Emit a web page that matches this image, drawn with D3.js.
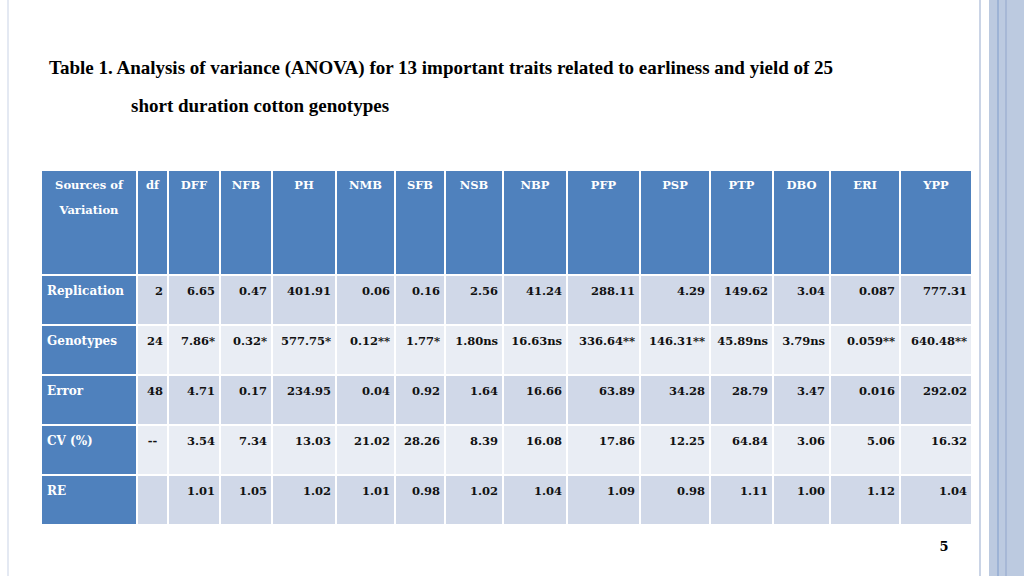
<!DOCTYPE html>
<html><head><meta charset="utf-8">
<script src="https://cdn.jsdelivr.net/npm/d3@7"></script>
<style>body{margin:0;background:#fff}svg{display:block}</style>
</head><body>
<svg id="chart" width="1024" height="576"></svg>
<script>
// table contents
var headers = ["Sources of\nVariation", "df", "DFF", "NFB", "PH", "NMB", "SFB", "NSB", "NBP", "PFP", "PSP", "PTP", "DBO", "ERI", "YPP"];
var sources = ["Replication", "Genotypes", "Error", "CV (%)", "RE"];
var dfs = ["2", "24", "48", "--", ""];
var replication = ["6.65", "0.47", "401.91", "0.06", "0.16", "2.56", "41.24", "288.11", "4.29", "149.62", "3.04", "0.087", "777.31"];
var genotypes = ["7.86*", "0.32*", "577.75*", "0.12**", "1.77*", "1.80ns", "16.63ns", "336.64**", "146.31**", "45.89ns", "3.79ns", "0.059**", "640.48**"];
var error = ["4.71", "0.17", "234.95", "0.04", "0.92", "1.64", "16.66", "63.89", "34.28", "28.79", "3.47", "0.016", "292.02"];
var cv = ["3.54", "7.34", "13.03", "21.02", "28.26", "8.39", "16.08", "17.86", "12.25", "64.84", "3.06", "5.06", "16.32"];
var re = ["1.01", "1.05", "1.02", "1.01", "0.98", "1.02", "1.04", "1.09", "0.98", "1.11", "1.00", "1.12", "1.04"];

var svg = d3.select("#chart");
var serif = "'DejaVu Serif', 'Liberation Serif', serif";

// slide decoration on the right
svg.append("line").attr("x1", 980).attr("x2", 980).attr("y1", 0).attr("y2", 576).attr("stroke", "#b8c6de").attr("stroke-width", 1.5);
svg.append("rect").attr("x", 989).attr("y", 0).attr("width", 35).attr("height", 576).attr("fill", "#bccae0");
svg.append("line").attr("x1", 998).attr("x2", 998).attr("y1", 0).attr("y2", 576).attr("stroke", "#7f9ccb").attr("stroke-width", 1);
svg.append("line").attr("x1", 1006).attr("x2", 1006).attr("y1", 0).attr("y2", 576).attr("stroke", "#a7b8d6").attr("stroke-width", 2);
svg.append("line").attr("x1", 8).attr("x2", 8).attr("y1", 0).attr("y2", 576).attr("stroke", "#c9d3e6").attr("stroke-width", 1);

// title
svg.append("text").attr("x", 49).attr("y", 74).attr("font-family", "'Liberation Serif', serif").attr("font-weight", "bold").attr("font-size", 19)
  .text("Table 1.  Analysis of variance (ANOVA) for 13 important traits related to earliness and yield of 25");
svg.append("text").attr("x", 131).attr("y", 112).attr("font-family", "'Liberation Serif', serif").attr("font-weight", "bold").attr("font-size", 19)
  .text("short duration cotton genotypes");
svg.append("text").attr("x", 944).attr("y", 551).attr("text-anchor", "middle").attr("font-family", serif).attr("font-weight", "bold").attr("font-size", 13).text("5");

// column edges
var edges = [41, 137, 168, 220, 272, 336, 395, 445, 503, 567, 640, 710, 773, 830, 900, 972];
var x = d3.scaleOrdinal().domain(headers).range(edges.slice(0, -1));
function w(i) { return edges[i + 1] - edges[i]; }

var headTop = 170, headBottom = 275;
var y = d3.scaleBand().domain(sources).range([headBottom, 525]).paddingInner(0);

var g = svg.append("g");

// header row
headers.forEach(function(h, i) {
  g.append("rect").attr("x", x(h)).attr("y", headTop).attr("width", w(i)).attr("height", headBottom - headTop)
    .attr("fill", "#4f81bd").attr("stroke", "#fff").attr("stroke-width", 2);
  var lines = h.split("\n");
  var t = g.append("text").attr("font-family", serif).attr("font-weight", "bold").attr("font-size", 11.5).attr("fill", "#fff")
    .attr("text-anchor", "middle");
  lines.forEach(function(l, j) {
    t.append("tspan").attr("x", x(h) + w(i) / 2).attr("y", headTop + 19 + j * 25).text(l);
  });
});

// body rows
var rows = [replication, genotypes, error, cv, re];
sources.forEach(function(s, r) {
  var fill = r % 2 === 0 ? "#d0d8e8" : "#e9edf4";
  var cells = [s, dfs[r]].concat(rows[r]);
  cells.forEach(function(c, i) {
    var col = headers[i];
    g.append("rect").attr("x", x(col)).attr("y", y(s)).attr("width", w(i)).attr("height", y.bandwidth())
      .attr("fill", i === 0 ? "#4f81bd" : fill).attr("stroke", "#fff").attr("stroke-width", 2);
    var t = g.append("text").attr("y", y(s) + 20).attr("font-family", serif).attr("font-weight", "bold")
      .attr("font-size", i === 0 ? 12 : 11.5).text(c);
    if (i === 0) t.attr("x", x(col) + 6).attr("fill", "#fff");
    else if (i === 1 && c === "--") t.attr("x", x(col) + w(i) / 2).attr("text-anchor", "middle").attr("fill", "#111");
    else t.attr("x", x(col) + w(i) - 5).attr("text-anchor", "end").attr("fill", "#111");
  });
});
</script>
</body></html>
